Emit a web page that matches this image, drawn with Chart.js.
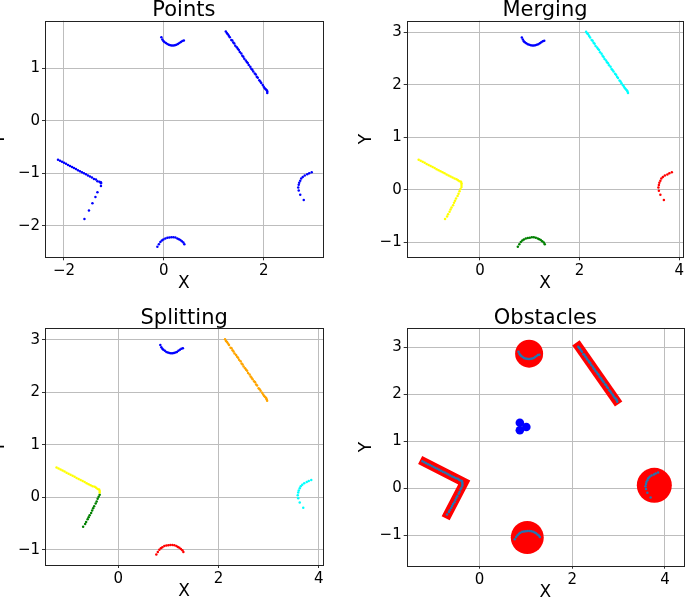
<!DOCTYPE html>
<html>
<head>
<meta charset="utf-8">
<script src="https://cdn.jsdelivr.net/npm/chart.js@4.4.1/dist/chart.umd.min.js"></script>
<style>
html, body { margin: 0; padding: 0; background: #fff; }
#wrap { position: relative; width: 685px; height: 600px; overflow: hidden; }
#wrap canvas { position: absolute; left: 0; top: 0; }
</style>
</head>
<body>
<div id="wrap">
  <canvas id="points" width="685" height="600"></canvas>
  <canvas id="merging" width="685" height="600"></canvas>
  <canvas id="splitting" width="685" height="600"></canvas>
  <canvas id="obstacles" width="685" height="600"></canvas>
</div>
<script>
// ---- datos del panel "Points" (deteccion cruda) ----
const p1TopArc = [[-0.05,1.59],[-0.03,1.55],[-0.01,1.52],[0.01,1.50],[0.04,1.48],[0.07,1.46],[0.10,1.45],[0.13,1.44],[0.16,1.435],[0.19,1.435],[0.22,1.44],[0.25,1.45],[0.28,1.46],[0.31,1.48],[0.34,1.50],[0.37,1.52],[0.40,1.53]];
const p1RightLine = [[1.24,1.70],[1.26,1.67],[1.28,1.65],[1.30,1.62],[1.32,1.59],[1.35,1.54],[1.37,1.53],[1.39,1.49],[1.41,1.47],[1.43,1.43],[1.46,1.40],[1.48,1.37],[1.50,1.35],[1.52,1.31],[1.55,1.28],[1.57,1.24],[1.59,1.22],[1.61,1.18],[1.64,1.15],[1.66,1.12],[1.68,1.10],[1.70,1.06],[1.73,1.03],[1.75,0.99],[1.77,0.97],[1.79,0.94],[1.82,0.90],[1.84,0.88],[1.86,0.84],[1.88,0.82],[1.91,0.77],[1.93,0.75],[1.95,0.72],[1.98,0.68],[2.00,0.65],[2.02,0.62],[2.04,0.60],[2.06,0.58],[2.07,0.56],[2.07,0.53]];
const p1LongArm = [[-2.12,-0.74],[-2.08,-0.76],[-2.04,-0.78],[-2.00,-0.80],[-1.96,-0.82],[-1.92,-0.84],[-1.88,-0.86],[-1.84,-0.88],[-1.80,-0.90],[-1.76,-0.92],[-1.72,-0.94],[-1.68,-0.96],[-1.64,-0.98],[-1.60,-1.00],[-1.56,-1.02],[-1.52,-1.04],[-1.48,-1.06],[-1.44,-1.08],[-1.40,-1.11],[-1.36,-1.12],[-1.33,-1.15],[-1.29,-1.16],[-1.26,-1.17]];
const p1ShortArm = [[-1.26,-1.19],[-1.26,-1.24],[-1.33,-1.36],[-1.37,-1.45],[-1.43,-1.57],[-1.50,-1.71],[-1.59,-1.87]];
const p1RightArc = [[2.96,-0.98],[2.91,-1.00],[2.87,-1.02],[2.82,-1.04],[2.78,-1.07],[2.75,-1.10],[2.73,-1.14],[2.71,-1.18],[2.70,-1.22],[2.69,-1.27],[2.70,-1.33],[2.73,-1.41],[2.80,-1.51]];
const p1BottomArc = [[-0.13,-2.40],[-0.10,-2.35],[-0.07,-2.31],[-0.04,-2.28],[-0.01,-2.26],[0.03,-2.24],[0.07,-2.23],[0.11,-2.225],[0.15,-2.22],[0.19,-2.22],[0.23,-2.225],[0.27,-2.24],[0.30,-2.255],[0.33,-2.27],[0.36,-2.295],[0.39,-2.32],[0.41,-2.35]];

// ---- grupos de los paneles Merging / Splitting / Obstacles ----
const topArc = [[0.84,2.90],[0.86,2.86],[0.88,2.83],[0.90,2.81],[0.93,2.79],[0.96,2.77],[0.99,2.76],[1.02,2.75],[1.05,2.745],[1.08,2.745],[1.11,2.75],[1.14,2.76],[1.17,2.77],[1.20,2.79],[1.23,2.81],[1.26,2.83],[1.29,2.84]];
const rightLine = [[2.13,3.01],[2.15,2.98],[2.17,2.96],[2.19,2.93],[2.21,2.90],[2.24,2.85],[2.26,2.84],[2.28,2.80],[2.30,2.78],[2.32,2.74],[2.35,2.71],[2.37,2.68],[2.39,2.66],[2.41,2.62],[2.44,2.59],[2.46,2.55],[2.48,2.53],[2.50,2.49],[2.53,2.46],[2.55,2.43],[2.57,2.41],[2.59,2.37],[2.62,2.34],[2.64,2.30],[2.66,2.28],[2.68,2.25],[2.71,2.21],[2.73,2.19],[2.75,2.15],[2.77,2.13],[2.80,2.08],[2.82,2.06],[2.84,2.03],[2.87,1.99],[2.89,1.96],[2.91,1.93],[2.93,1.91],[2.95,1.89],[2.96,1.87],[2.97,1.84]];
const longArm = [[-1.23,0.57],[-1.19,0.55],[-1.15,0.53],[-1.11,0.51],[-1.07,0.49],[-1.03,0.47],[-0.99,0.45],[-0.95,0.43],[-0.91,0.41],[-0.87,0.39],[-0.83,0.37],[-0.79,0.35],[-0.75,0.33],[-0.71,0.31],[-0.67,0.29],[-0.63,0.27],[-0.59,0.25],[-0.55,0.23],[-0.51,0.21],[-0.47,0.20],[-0.44,0.18],[-0.41,0.16],[-0.38,0.15],[-0.37,0.12],[-0.37,0.09]];
const shortArm = [[-0.37,0.05],[-0.39,0.01],[-0.41,-0.03],[-0.43,-0.08],[-0.45,-0.12],[-0.48,-0.17],[-0.50,-0.21],[-0.52,-0.25],[-0.54,-0.30],[-0.57,-0.34],[-0.59,-0.38],[-0.61,-0.42],[-0.64,-0.47],[-0.66,-0.51],[-0.70,-0.56]];
const rightArc = [[3.85,0.33],[3.80,0.31],[3.76,0.29],[3.71,0.27],[3.67,0.24],[3.64,0.21],[3.62,0.17],[3.60,0.13],[3.59,0.09],[3.58,0.04],[3.59,-0.02],[3.62,-0.10],[3.69,-0.20]];
const bottomArc = [[0.76,-1.09],[0.79,-1.04],[0.82,-1.00],[0.85,-0.97],[0.88,-0.95],[0.92,-0.93],[0.96,-0.92],[1.00,-0.915],[1.04,-0.91],[1.08,-0.91],[1.12,-0.915],[1.16,-0.93],[1.19,-0.945],[1.22,-0.96],[1.25,-0.985],[1.28,-1.01],[1.30,-1.04]];

// ---- obstaculos ----
const circleCenters = [[1.07,2.86],[1.03,-1.05],[3.77,0.06]];
const wallRight = [[2.08,3.09],[3.00,1.79]];
const wallCorner = [[-1.28,0.60],[-0.33,0.12],[-0.73,-0.64]];
const robots = [[0.87,1.39],[0.87,1.23],[1.01,1.30]];

// ---- ticks ----
const p1XTicks = [-2, 0, 2];
const p1YTicks = [-2, -1, 0, 1];
const xTicks = [0, 2, 4];
const yTicks = [-1, 0, 1, 2, 3];

Chart.defaults.font.family = "'DejaVu Sans', sans-serif";
Chart.defaults.color = "#000";

const AXIS_W = 40, AXIS_H = 32, TITLE_H = 21;
const LABEL_SIZE = 17, LABEL_HALF = LABEL_SIZE * 1.2 / 2;

const pts = arr => arr.map(([x, y]) => ({ x, y }));
const fmt = v => v < 0 ? "\u2212" + (-v) : String(v);

function dots(arr, color) {
    return { data: pts(arr), backgroundColor: color, borderColor: color, pointRadius: 1.25, pointBorderWidth: 0, order: 1 };
}

// marco completo alrededor del area del grafico
const frame = {
    id: "frame",
    afterDraw(chart) {
        const { ctx, chartArea: a } = chart;
        ctx.save();
        ctx.strokeStyle = "#222";
        ctx.lineWidth = 1;
        const l = Math.round(a.left) + 0.5, t = Math.round(a.top) + 0.5;
        ctx.strokeRect(l, t, Math.round(a.right) - Math.round(a.left), Math.round(a.bottom) - Math.round(a.top));
        ctx.restore();
    }
};

function axis(range, ticks, label, horizontal, titlePad) {
    return {
        type: "linear",
        min: range[0],
        max: range[1],
        afterBuildTicks: s => { s.ticks = ticks.map(v => ({ value: v })); },
        afterFit: s => {
            if (horizontal) { s.height = AXIS_H; s.paddingLeft = 0; s.paddingRight = 0; }
            else { s.width = AXIS_W; s.paddingTop = 0; s.paddingBottom = 0; }
        },
        grid: { color: "#bdbdbd", lineWidth: 1, tickLength: 3, tickColor: "#333" },
        border: { display: false },
        ticks: { font: { size: 15 }, padding: 2, maxRotation: 0, autoSkip: false, callback: fmt },
        title: { display: true, text: label, font: { size: LABEL_SIZE }, padding: titlePad }
    };
}

function makeChart(id, title, box, xRange, yRange, xt, yt, yLabelX, datasets) {
    const [L, T, R, B] = box;
    return new Chart(document.getElementById(id), {
        type: "scatter",
        data: { datasets },
        options: {
            responsive: false,
            animation: false,
            events: [],
            layout: { autoPadding: false, padding: { left: L - AXIS_W, top: T - TITLE_H, right: 685 - R, bottom: 600 - B - AXIS_H } },
            plugins: {
                legend: { display: false },
                tooltip: { enabled: false },
                title: { display: true, text: title, fullSize: false, font: { size: 21, weight: "normal", lineHeight: 1 }, padding: { top: 0.3, bottom: -0.3 } }
            },
            scales: {
                x: Object.assign(axis(xRange, xt, "X", true, { top: 0, bottom: AXIS_H - 26.5 - LABEL_HALF }), { position: "bottom" }),
                y: Object.assign(axis(yRange, yt, "Y", false, { top: yLabelX - (L - AXIS_W) - LABEL_HALF, bottom: 0 }), { position: "left" })
            }
        },
        plugins: [frame]
    });
}

makeChart("points", "Points", [45, 20.7, 322.7, 257.3], [-2.38, 3.18], [-2.60, 1.906], p1XTicks, p1YTicks, 0, [
    dots([].concat(p1TopArc, p1RightLine, p1LongArm, p1ShortArm, p1RightArc, p1BottomArc), "#0000ff")
]);

makeChart("merging", "Merging", [406.7, 20.7, 683.3, 257.3], [-1.47, 4.08], [-1.29, 3.22], xTicks, yTicks, 366.7, [
    dots(topArc, "#0000ff"),
    dots(rightLine, "#00ffff"),
    dots([].concat(longArm, shortArm), "#ffff00"),
    dots(rightArc, "#ff0000"),
    dots(bottomArc, "#008000")
]);

makeChart("splitting", "Splitting", [45, 328.3, 323.3, 565], [-1.46, 4.09], [-1.29, 3.22], xTicks, yTicks, 0, [
    dots(topArc, "#0000ff"),
    dots(rightLine, "#ffa500"),
    dots(longArm, "#ffff00"),
    dots(shortArm, "#008000"),
    dots(rightArc, "#00ffff"),
    dots(bottomArc, "#ff0000")
]);

makeChart("obstacles", "Obstacles", [406.7, 328.3, 684, 565.7], [-1.57, 4.41], [-1.65, 3.40], xTicks, yTicks, 366.7, [
    dots([].concat(topArc, rightLine, longArm, shortArm, rightArc, bottomArc), "#1f77b4"),
    { data: pts(robots), backgroundColor: "#0000ff", pointRadius: 4.3, pointBorderWidth: 0, order: 1 },
    { data: pts(circleCenters), backgroundColor: "#ff0000", pointRadius: [14, 16.5, 17.5], pointBorderWidth: 0, order: 2 },
    { data: pts(wallRight), showLine: true, borderColor: "#ff0000", borderWidth: 9, borderCapStyle: "butt", borderJoinStyle: "miter", pointRadius: 0, order: 2 },
    { data: pts(wallCorner), showLine: true, borderColor: "#ff0000", borderWidth: 9, borderCapStyle: "butt", borderJoinStyle: "miter", pointRadius: 0, order: 2 }
]);
</script>
</body>
</html>
